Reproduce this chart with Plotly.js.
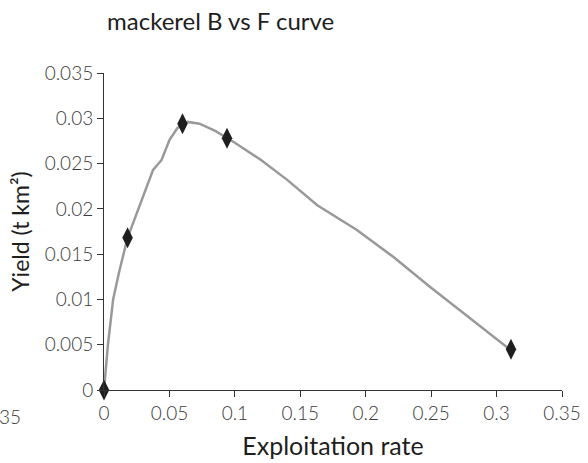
<!DOCTYPE html>
<html><head><meta charset="utf-8">
<script src="https://cdn.plot.ly/plotly-3.0.1.min.js"></script>
<style>html,body{margin:0;padding:0;background:#fff}#chart{width:588px;height:463px}</style>
</head><body><div id="chart"></div>
<script>
// Model curve (gray line)
const curveX = [0, 0.003, 0.007, 0.0115, 0.018, 0.026, 0.0375, 0.044, 0.050, 0.056, 0.064, 0.073, 0.085, 0.10, 0.12, 0.14, 0.163, 0.193, 0.221, 0.249, 0.28, 0.31];
const curveY = [0, 0.005, 0.010, 0.013, 0.0168, 0.0199, 0.0243, 0.0254, 0.0276, 0.0289, 0.0296, 0.0294, 0.0286, 0.0273, 0.0254, 0.0232, 0.0204, 0.0177, 0.0147, 0.0114, 0.0079, 0.0045];
// Observed points (black diamonds)
const pointX = [0, 0.018, 0.060, 0.094, 0.311];
const pointY = [0, 0.0168, 0.0294, 0.0278, 0.0045];
const xTicks = [0, 0.05, 0.1, 0.15, 0.2, 0.25, 0.3, 0.35];
const xTickText = ['0', '0.05', '0.1', '0.15', '0.2', '0.25', '0.3', '0.35'];
const yTicks = [0, 0.005, 0.01, 0.015, 0.02, 0.025, 0.03, 0.035];
const yTickText = ['0', '0.005', '0.01', '0.015', '0.02', '0.025', '0.03', '0.035'];
const strayLabel = '35';

const FONT = 'Lato, "Open Sans", sans-serif';
const traces = [
  {x: curveX, y: curveY, mode: 'lines', line: {color: '#999999', width: 2.5}, hoverinfo: 'skip', cliponaxis: false},
  {x: pointX, y: pointY, mode: 'markers', marker: {symbol: 'diamond-tall', size: 15, color: '#1e1e1e'}, cliponaxis: false}
];
const axisCommon = {
  showgrid: false, zeroline: false, showline: true, linecolor: '#333', linewidth: 1,
  ticks: 'outside', ticklen: 6, tickcolor: '#333', tickwidth: 1,
  tickfont: {family: FONT, size: 19, color: '#3a3a3a', weight: 300}, tickmode: 'array'
};
const layout = {
  width: 588, height: 463,
  margin: {l: 104, r: 26, t: 73, b: 73},
  paper_bgcolor: '#fff', plot_bgcolor: '#fff',
  showlegend: false,
  title: {text: 'mackerel B vs F curve', font: {family: FONT, size: 24, color: '#1e1e1e'},
          x: 107/588, xanchor: 'left', xref: 'container', y: 1 - 22/463, yanchor: 'middle', yref: 'container'},
  xaxis: Object.assign({}, axisCommon, {range: [0, 0.35], tickvals: xTicks, ticktext: xTickText,
    title: {text: 'Exploitation rate', font: {family: FONT, size: 25, color: '#1e1e1e'}, standoff: 14}}),
  yaxis: Object.assign({}, axisCommon, {range: [0, 0.035], tickvals: yTicks, ticktext: yTickText,
    title: {text: 'Yield (t km²)', font: {family: FONT, size: 23, color: '#1e1e1e'}, standoff: 8}}),
  annotations: [{text: strayLabel, xref: 'paper', yref: 'paper', x: (23 - 104) / 458, y: (390 - 416) / 317,
    xanchor: 'right', yanchor: 'middle', showarrow: false, font: {family: FONT, size: 19, color: '#3a3a3a', weight: 300}}]
};
Plotly.newPlot('chart', traces, layout, {displayModeBar: false, staticPlot: true});
</script></body></html>
